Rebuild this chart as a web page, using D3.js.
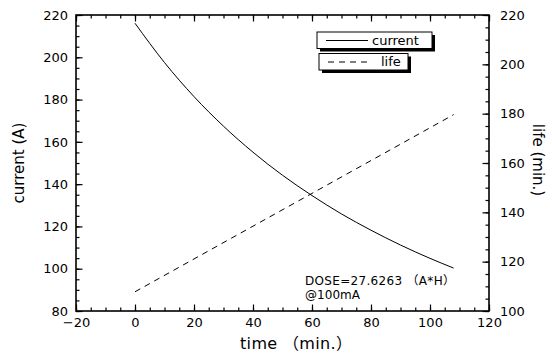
<!DOCTYPE html>
<html>
<head>
<meta charset="utf-8">
<script src="https://cdn.jsdelivr.net/npm/d3@7"></script>
<style>
  body { margin: 0; background: #fff; }
  svg { display: block; }
  text { font-family: "DejaVu Sans", "Noto Sans CJK JP", sans-serif; fill: #000; }
  .axis path { display: none; }
  .axis line { stroke: #000; stroke-width: 1.2; }
  .axis text { font-size: 13px; }
</style>
</head>
<body>
<svg width="552" height="353"></svg>
<script>
// values
let timeVals    = [0, 10, 20, 30, 40, 50, 60, 70, 80, 90, 100, 108]
let currentVals = [216.1, 197.5, 181.4, 167.4, 155.1, 144.2, 134.6, 125.9, 118.2, 111.2, 104.9, 100.3]
let lifeTime    = [0, 108]
let lifeVals    = [107.8, 179.6]
let xTicks      = [-20, 0, 20, 40, 60, 80, 100, 120]
let yLeftTicks  = [80, 100, 120, 140, 160, 180, 200, 220]
let yRightTicks = [100, 120, 140, 160, 180, 200, 220]

const svg = d3.select("svg")
const L = 76, R = 489, T = 15, B = 311

const x = d3.scaleLinear().domain([-20, 120]).range([L, R])
const yL = d3.scaleLinear().domain([80, 220]).range([B, T])
const yR = d3.scaleLinear().domain([100, 220]).range([B, T])

const minor = (a, b) => d3.range(a, b + 0.1, 5)

// minor ticks
svg.append("g").attr("class", "axis").attr("transform", `translate(0,${B})`)
  .call(d3.axisBottom(x).tickValues(minor(-20, 120)).tickSize(-3.5).tickSizeOuter(0).tickFormat(""))
svg.append("g").attr("class", "axis").attr("transform", `translate(0,${T})`)
  .call(d3.axisTop(x).tickValues(minor(-20, 120)).tickSize(-3.5).tickSizeOuter(0).tickFormat(""))
svg.append("g").attr("class", "axis").attr("transform", `translate(${L},0)`)
  .call(d3.axisLeft(yL).tickValues(minor(80, 220)).tickSize(-3.5).tickSizeOuter(0).tickFormat(""))
svg.append("g").attr("class", "axis").attr("transform", `translate(${R},0)`)
  .call(d3.axisRight(yR).tickValues(minor(100, 220)).tickSize(-3.5).tickSizeOuter(0).tickFormat(""))

// major ticks + labels
svg.append("g").attr("class", "axis").attr("transform", `translate(0,${B})`)
  .call(d3.axisBottom(x).tickValues(xTicks).tickSize(-6.5).tickSizeOuter(0).tickPadding(7)
    .tickFormat(d => d < 0 ? "\u2212" + Math.abs(d) : d))
svg.append("g").attr("class", "axis").attr("transform", `translate(0,${T})`)
  .call(d3.axisTop(x).tickValues(xTicks).tickSize(-6.5).tickSizeOuter(0).tickFormat(""))
svg.append("g").attr("class", "axis").attr("transform", `translate(${L},0)`)
  .call(d3.axisLeft(yL).tickValues(yLeftTicks).tickSize(-6.5).tickSizeOuter(0).tickPadding(8))
svg.append("g").attr("class", "axis").attr("transform", `translate(${R},0)`)
  .call(d3.axisRight(yR).tickValues(yRightTicks).tickSize(-6.5).tickSizeOuter(0).tickPadding(11))

// frame
svg.append("rect")
  .attr("x", L).attr("y", T).attr("width", R - L).attr("height", B - T)
  .attr("fill", "none").attr("stroke", "#000").attr("stroke-width", 1.6)

// current curve
const curLine = d3.line().curve(d3.curveMonotoneX)
  .x((d, i) => x(timeVals[i])).y(d => yL(d))
svg.append("path").attr("d", curLine(currentVals))
  .attr("fill", "none").attr("stroke", "#000").attr("stroke-width", 1)

// life line
const lifeLine = d3.line().x((d, i) => x(lifeTime[i])).y(d => yR(d))
svg.append("path").attr("d", lifeLine(lifeVals))
  .attr("fill", "none").attr("stroke", "#000").attr("stroke-width", 1)
  .attr("stroke-dasharray", "6,5")

// legend boxes
const legend = [
  { name: "current", x: 317, y: 32, w: 115, dash: null, lx1: 326, lx2: 368, tx: 372 },
  { name: "life", x: 319, y: 53.5, w: 89, dash: "6,5", lx1: 328, lx2: 372, tx: 381 }
]
legend.forEach(l => {
  svg.append("rect").attr("x", l.x + 3).attr("y", l.y + 3).attr("width", l.w).attr("height", 16.5)
    .attr("fill", "#000")
  svg.append("rect").attr("x", l.x).attr("y", l.y).attr("width", l.w).attr("height", 16.5)
    .attr("fill", "#fff").attr("stroke", "#000").attr("stroke-width", 1)
  svg.append("line").attr("x1", l.lx1).attr("x2", l.lx2).attr("y1", l.y + 8.5).attr("y2", l.y + 8.5)
    .attr("stroke", "#000").attr("stroke-width", 1).attr("stroke-dasharray", l.dash)
  svg.append("text").attr("x", l.tx).attr("y", l.y + 12.5).style("font-size", "13px").text(l.name)
})

// annotation
svg.append("text").attr("x", 305).attr("y", 285).style("font-size", "12px")
  .attr("textLength", 150).attr("lengthAdjust", "spacing").text("DOSE=27.6263 （A*H）")
svg.append("text").attr("x", 305).attr("y", 298.5).style("font-size", "12px")
  .attr("textLength", 55).attr("lengthAdjust", "spacing").text("@100mA")

// axis titles
svg.append("text").attr("x", 240).attr("y", 349)
  .attr("textLength", 112).attr("lengthAdjust", "spacing")
  .style("font-size", "16px").text("time （min.）")
svg.append("text").attr("transform", "translate(24,163) rotate(-90)").attr("text-anchor", "middle")
  .style("font-size", "15px").text("current (A)")
svg.append("text").attr("transform", "translate(533,160) rotate(90)").attr("text-anchor", "middle")
  .style("font-size", "15px").text("life (min.)")
</script>
</body>
</html>
